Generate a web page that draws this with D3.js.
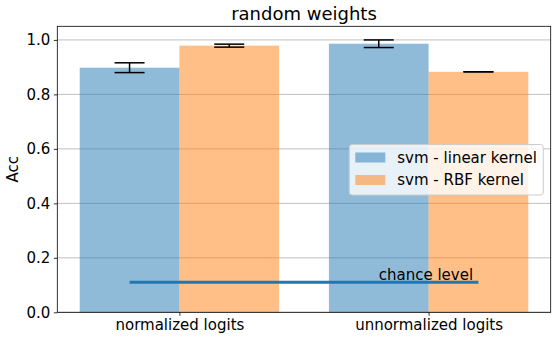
<!DOCTYPE html>
<html>
<head>
<meta charset="utf-8">
<script src="https://cdn.jsdelivr.net/npm/d3@7"></script>
<style>
  body { margin: 0; background: #fff; }
  text { font-family: "DejaVu Sans", sans-serif; fill: #000; }
</style>
</head>
<body>
<div id="chart"></div>
<script>
// data
var groups = ["normalized logits", "unnormalized logits"];
var seriesNames = ["svm - linear kernel", "svm - RBF kernel"];
var linearAcc = [0.898, 0.986];
var linearErr = [0.018, 0.014];
var rbfAcc = [0.979, 0.883];
var rbfErr = [0.0055, 0.0];
var chanceLevel = 0.11;
var yTicks = [0.0, 0.2, 0.4, 0.6, 0.8, 1.0];

var W = 558, H = 341;
var margin = {top: 26.3, right: 7.3, bottom: 28.7, left: 57.3};
var width = W - margin.left - margin.right,
    height = H - margin.top - margin.bottom;

var colors = ["#1f77b4", "#ff7f0e"];
var barW = 0.4;

// matplotlib-like linear x over group index
var x = d3.scaleLinear().domain([-0.49, 1.49]).range([0, width]);
var y = d3.scaleLinear().domain([0, 1.05]).range([height, 0]);

var svg = d3.select("#chart").append("svg")
    .attr("width", W)
    .attr("height", H);

var g = svg.append("g")
    .attr("transform", "translate(" + margin.left + "," + margin.top + ")");

// grid (under bars)
g.append("g")
    .selectAll("line")
    .data(yTicks)
    .enter().append("line")
    .attr("x1", 0).attr("x2", width)
    .attr("y1", function(d) { return y(d); })
    .attr("y2", function(d) { return y(d); })
    .attr("stroke", "#b0b0b0")
    .attr("stroke-width", 0.8);

var barData = [];
groups.forEach(function(name, i) {
    barData.push({s: 0, i: i, v: linearAcc[i], e: linearErr[i]});
    barData.push({s: 1, i: i, v: rbfAcc[i], e: rbfErr[i]});
});

function barLeft(d) { return d.s === 0 ? d.i - barW : d.i; }

g.selectAll(".bar")
    .data(barData)
    .enter().append("rect")
    .attr("class", "bar")
    .attr("x", function(d) { return x(barLeft(d)); })
    .attr("y", function(d) { return y(d.v); })
    .attr("width", function(d) { return x(barLeft(d) + barW) - x(barLeft(d)); })
    .attr("height", function(d) { return y(0) - y(d.v); })
    .attr("fill", function(d) { return colors[d.s]; })
    .attr("fill-opacity", 0.5);

// error bars
var capHalf = 15;
var err = g.selectAll(".err")
    .data(barData)
    .enter().append("g")
    .attr("class", "err")
    .attr("transform", function(d) { return "translate(" + x(barLeft(d) + barW / 2) + ",0)"; });
err.append("line")
    .attr("x1", 0).attr("x2", 0)
    .attr("y1", function(d) { return y(d.v - d.e); })
    .attr("y2", function(d) { return y(d.v + d.e); })
    .attr("stroke", "#000").attr("stroke-width", 1.5);
err.selectAll(".cap")
    .data(function(d) { return [d.v - d.e, d.v + d.e]; })
    .enter().append("line")
    .attr("x1", -capHalf).attr("x2", capHalf)
    .attr("y1", function(v) { return y(v); })
    .attr("y2", function(v) { return y(v); })
    .attr("stroke", "#000").attr("stroke-width", 1.5);

// chance level
g.append("line")
    .attr("x1", x(-0.2)).attr("x2", x(1.2))
    .attr("y1", y(chanceLevel)).attr("y2", y(chanceLevel))
    .attr("stroke", "#1f77b4")
    .attr("stroke-width", 3);
g.append("text")
    .attr("x", x(0.8))
    .attr("y", y(chanceLevel) - 2.5)
    .attr("font-size", "15px")
    .text("chance level");

// axes
var yAxis = d3.axisLeft(y).tickValues(yTicks).tickFormat(d3.format(".1f")).tickSize(3.5).tickPadding(3.5);
var xAxis = d3.axisBottom(x).tickValues([0, 1]).tickFormat(function(d) { return groups[d]; }).tickSize(3.5).tickPadding(3.5);

var ya = g.append("g").call(yAxis);
var xa = g.append("g").attr("transform", "translate(0," + height + ")").call(xAxis);
[ya, xa].forEach(function(a) {
    a.select(".domain").remove();
    a.selectAll("line").attr("stroke", "#000").attr("stroke-width", 0.8);
    a.selectAll("text").attr("font-size", "15px").attr("font-family", "DejaVu Sans").attr("fill", "#000");
});

// spines
g.append("rect")
    .attr("x", 0).attr("y", 0)
    .attr("width", width).attr("height", height)
    .attr("fill", "none")
    .attr("stroke", "#000")
    .attr("stroke-width", 0.8);

// title and label
svg.append("text")
    .attr("x", margin.left + width / 2)
    .attr("y", 20)
    .attr("text-anchor", "middle")
    .attr("font-size", "18px")
    .text("random weights");

svg.append("text")
    .attr("transform", "translate(18," + (margin.top + height / 2) + ") rotate(-90)")
    .attr("text-anchor", "middle")
    .attr("font-size", "15px")
    .text("Acc");

// legend
var lg = svg.append("g").attr("transform", "translate(349.3,144.5)");
lg.append("rect")
    .attr("width", 194).attr("height", 50.5)
    .attr("rx", 3).attr("ry", 3)
    .attr("fill", "#fff").attr("fill-opacity", 0.8)
    .attr("stroke", "#cccccc").attr("stroke-width", 1);
var item = lg.selectAll(".item")
    .data(seriesNames)
    .enter().append("g")
    .attr("transform", function(d, i) { return "translate(0," + (i * 22.5) + ")"; });
item.append("rect")
    .attr("x", 6).attr("y", 8)
    .attr("width", 30).attr("height", 10)
    .attr("fill", function(d, i) { return colors[i]; })
    .attr("fill-opacity", 0.5);
item.append("text")
    .attr("x", 48).attr("y", 18)
    .attr("font-size", "15px")
    .text(function(d) { return d; });
</script>
</body>
</html>
